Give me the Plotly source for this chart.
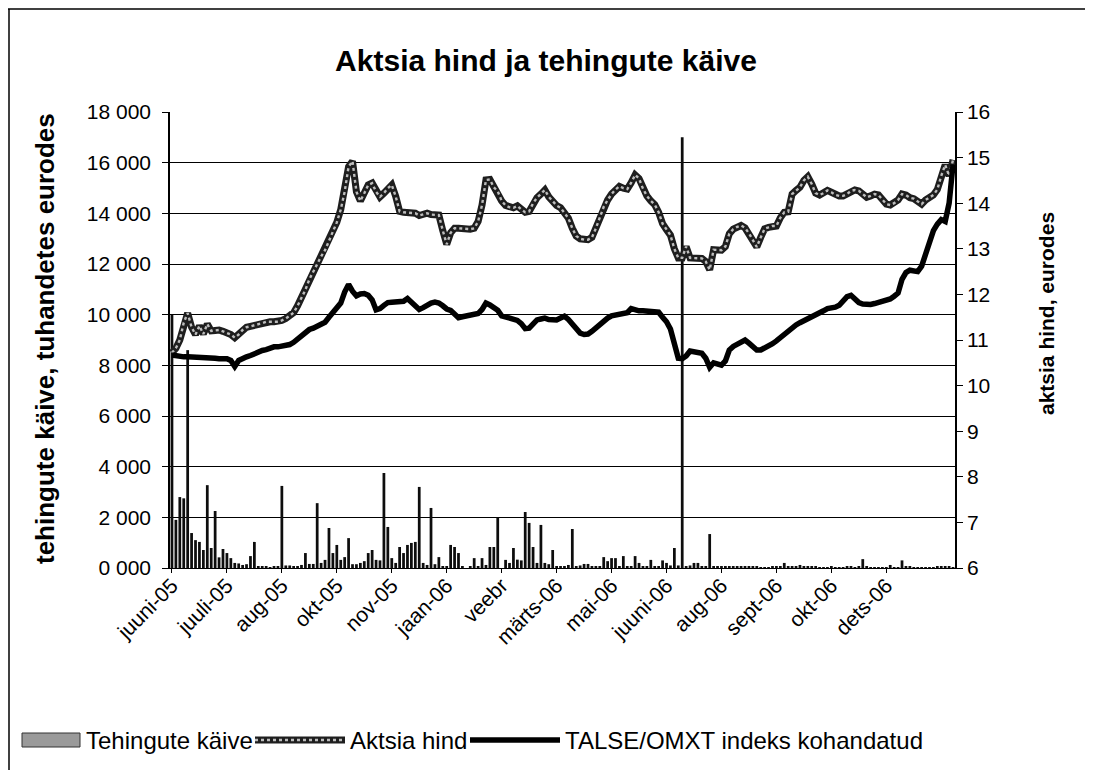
import plotly.graph_objects as go

# ---- data (each category = 2 trading days) ----
tick_labels = ["juuni-05", "juuli-05", "aug-05", "okt-05", "nov-05", "jaan-06", "veebr",
               "märts-06", "mai-06", "juuni-06", "aug-06", "sept-06", "okt-06", "dets-06"]
label_every = 14

turnover = [
    10000, 1900, 2800, 2750, 8600, 1380, 1100, 1030, 710, 3270,
    790, 2250, 420, 750, 590, 390, 200, 180, 120, 150,
    470, 1030, 80, 60, 40, 30, 50, 60, 3240, 100,
    100, 80, 60, 120, 590, 160, 160, 2560, 200, 320,
    1580, 590, 910, 320, 430, 1180, 150, 150, 200, 270,
    590, 710, 320, 300, 3750, 1620, 390, 200, 830, 590,
    910, 990, 1030, 3200, 200, 120, 2370, 150, 430, 80,
    60, 910, 830, 590, 80, 0, 40, 390, 80, 390,
    120, 830, 830, 2000, 0, 320, 200, 790, 330, 300,
    2210, 1780, 830, 200, 1700, 200, 150, 710, 80, 60,
    80, 120, 1540, 80, 100, 160, 160, 40, 40, 60,
    430, 270, 390, 390, 80, 470, 60, 80, 470, 200,
    40, 40, 320, 40, 40, 300, 200, 100, 790, 100,
    17000, 40, 100, 200, 200, 40, 40, 1340, 40, 40,
    40, 40, 80, 80, 80, 40, 40, 40, 40, 40,
    20, 20, 20, 60, 60, 60, 200, 80, 80, 40,
    120, 40, 80, 80, 40, 20, 20, 20, 40, 20,
    20, 20, 40, 40, 20, 40, 350, 40, 20, 20,
    20, 20, 20, 120, 20, 20, 300, 40, 80, 20,
    20, 20, 20, 20, 20, 80, 80, 80, 80, 20,
]

price = [
    10.72, 10.82, 11.0, 11.38, 11.59, 11.28, 11.12, 11.31, 11.13, 11.35,
    11.2, 11.21, 11.22, 11.19, 11.16, 11.12, 11.05, 11.12, 11.22, 11.28,
    11.3, 11.32, 11.35, 11.37, 11.4, 11.4, 11.4, 11.4, 11.43, 11.47,
    11.53, 11.6, 11.75, 11.93, 12.1, 12.33, 12.5, 12.68, 12.83, 12.97,
    13.18, 13.36, 13.58, 13.86, 14.25, 14.8, 14.92, 14.25, 14.05, 14.22,
    14.4, 14.44, 14.25, 14.14, 14.22, 14.33, 14.4, 14.15, 13.82, 13.8,
    13.79, 13.79, 13.78, 13.73, 13.76, 13.78, 13.75, 13.74, 13.74, 13.4,
    13.1, 13.35, 13.45, 13.45, 13.44, 13.43, 13.43, 13.45, 13.6, 13.96,
    14.51, 14.52, 14.35, 14.26, 14.05, 13.95, 13.91, 13.9, 13.94, 13.86,
    13.8, 13.82, 14.0, 14.12, 14.2, 14.29, 14.14, 14.04, 13.95, 13.9,
    13.79, 13.67, 13.45, 13.28, 13.22, 13.2, 13.2, 13.25, 13.45, 13.7,
    13.92, 14.07, 14.2, 14.3, 14.37, 14.33, 14.31, 14.45, 14.62, 14.54,
    14.32, 14.16, 14.05, 13.97, 13.8, 13.55, 13.42, 13.3, 13.0, 12.8,
    12.8, 13.05, 12.8, 12.8, 12.8, 12.79, 12.72, 12.54, 12.98, 12.97,
    12.97, 13.05, 13.33, 13.43, 13.48, 13.51, 13.46, 13.34, 13.18, 13.04,
    13.25, 13.44, 13.47, 13.5, 13.5, 13.68, 13.8, 13.81, 14.2, 14.28,
    14.35, 14.5, 14.58, 14.42, 14.22, 14.18, 14.22, 14.28, 14.24, 14.18,
    14.16, 14.16, 14.2, 14.27, 14.29, 14.27, 14.19, 14.13, 14.16, 14.2,
    14.18, 14.08, 13.98, 13.96, 14.0, 14.07, 14.2, 14.18, 14.12, 14.1,
    14.04, 13.98, 14.07, 14.13, 14.18, 14.3, 14.6, 14.84, 14.6, 14.95,
]

index_adj = [
    10.67, 10.65, 10.63, 10.63, 10.63, 10.63, 10.62, 10.61, 10.61, 10.61,
    10.61, 10.6, 10.59, 10.59, 10.59, 10.55, 10.42, 10.55, 10.6, 10.63,
    10.66, 10.7, 10.76, 10.77, 10.79, 10.83, 10.85, 10.85, 10.86, 10.88,
    10.9, 10.95, 11.03, 11.1, 11.17, 11.23, 11.26, 11.3, 11.33, 11.39,
    11.5, 11.59, 11.69, 11.81, 12.05, 12.22, 12.07, 11.97, 12.01, 12.02,
    11.98, 11.88, 11.66, 11.69, 11.76, 11.82, 11.83, 11.83, 11.83, 11.85,
    11.91, 11.83, 11.75, 11.67, 11.71, 11.77, 11.81, 11.83, 11.81, 11.75,
    11.68, 11.65, 11.56, 11.49, 11.51, 11.53, 11.53, 11.54, 11.58, 11.67,
    11.81, 11.77, 11.72, 11.65, 11.53, 11.5, 11.49, 11.47, 11.43, 11.36,
    11.25, 11.26, 11.36, 11.44, 11.46, 11.48, 11.45, 11.44, 11.44, 11.48,
    11.52, 11.45, 11.36, 11.24, 11.15, 11.12, 11.13, 11.19, 11.27, 11.36,
    11.44, 11.48, 11.53, 11.55, 11.56, 11.58, 11.6, 11.69, 11.66, 11.64,
    11.64, 11.63, 11.62, 11.64, 11.61, 11.5, 11.4, 11.24, 10.95, 10.6,
    10.59, 10.65, 10.76, 10.74, 10.73, 10.71, 10.6, 10.4, 10.5, 10.48,
    10.45, 10.54, 10.78, 10.86, 10.9, 10.93, 11.0, 10.93, 10.84, 10.78,
    10.78, 10.82, 10.88, 10.92, 10.98, 11.05, 11.12, 11.21, 11.27, 11.33,
    11.38, 11.42, 11.47, 11.51, 11.53, 11.58, 11.64, 11.69, 11.7, 11.72,
    11.76, 11.84, 11.95, 11.98, 11.9, 11.82, 11.79, 11.77, 11.78, 11.8,
    11.83, 11.83, 11.86, 11.9, 11.96, 12.03, 12.33, 12.48, 12.53, 12.53,
    12.5, 12.62, 12.9, 13.18, 13.4, 13.54, 13.64, 13.6, 14.0, 14.85,
]

left_ticks = [0, 2000, 4000, 6000, 8000, 10000, 12000, 14000, 16000, 18000]
left_tick_text = ["0 000", "2 000", "4 000", "6 000", "8 000", "10 000",
                  "12 000", "14 000", "16 000", "18 000"]

legend_names = ["Tehingute käive", "Aktsia hind", "TALSE/OMXT indeks kohandatud"]

n = len(price)
xs = list(range(n))
tick_positions = xs[::label_every][:len(tick_labels)]
FONT = "Liberation Sans, Arial, sans-serif"

fig = go.Figure()

fig.add_trace(go.Bar(
    x=xs, y=turnover, name=legend_names[0], yaxis="y",
    marker=dict(color="#0d0d0d", line=dict(width=0)),
))
fig.add_trace(go.Scatter(
    x=xs, y=price, yaxis="y2", mode="lines", hoverinfo="skip",
    line=dict(color="#1e1e1e", width=7),
))
fig.add_trace(go.Scatter(
    x=xs, y=price, yaxis="y2", mode="lines", name=legend_names[1],
    line=dict(color="#bdbdbd", width=2.4, dash="dot"),
))
fig.add_trace(go.Scatter(
    x=xs, y=index_adj, yaxis="y2", mode="lines", name=legend_names[2],
    line=dict(color="#000000", width=5.5),
))

# the page has an 8px body margin: work in page pixels, convert to figure pixels
OFF = 8
W, H = 1093 - OFF, 770 - OFF
L, R, T, B = 170 - OFF, 955 - OFF, 112 - OFF, 568 - OFF


def px_x(p):
    return (p - OFF - L) / (R - L)


def px_y(p):
    return (B - (p - OFF)) / (B - T)


leg_y = 740
shapes = [
    dict(type="line", xref="paper", yref="paper", x0=px_x(8), x1=px_x(1093), y0=px_y(9), y1=px_y(9),
         line=dict(color="#000", width=1.5)),
    dict(type="line", xref="paper", yref="paper", x0=px_x(9), x1=px_x(9), y0=px_y(9), y1=px_y(770),
         line=dict(color="#000", width=1.5)),
    dict(type="line", xref="paper", yref="paper", x0=px_x(1087), x1=px_x(1087), y0=px_y(9), y1=px_y(770),
         line=dict(color="#000", width=1.5)),
    dict(type="rect", xref="paper", yref="paper", x0=px_x(22), x1=px_x(80),
         y0=px_y(leg_y + 7), y1=px_y(leg_y - 7), fillcolor="#9a9a9a",
         line=dict(color="#333", width=1)),
    dict(type="line", xref="paper", yref="paper", x0=px_x(255), x1=px_x(345),
         y0=px_y(leg_y), y1=px_y(leg_y), line=dict(color="#1e1e1e", width=7)),
    dict(type="line", xref="paper", yref="paper", x0=px_x(255), x1=px_x(345),
         y0=px_y(leg_y), y1=px_y(leg_y), line=dict(color="#bdbdbd", width=2.4, dash="dot")),
    dict(type="line", xref="paper", yref="paper", x0=px_x(470), x1=px_x(560),
         y0=px_y(leg_y), y1=px_y(leg_y), line=dict(color="#000", width=5.5)),
]

annotations = [
    dict(text="<b>tehingute käive, tuhandetes eurodes</b>", textangle=-90,
         xref="paper", yref="paper", x=px_x(45), y=px_y(339),
         xanchor="center", yanchor="middle", showarrow=False,
         font=dict(size=26, family=FONT)),
    dict(text="<b>aktsia hind, eurodes</b>", textangle=-90,
         xref="paper", yref="paper", x=px_x(1046), y=px_y(314),
         xanchor="center", yanchor="middle", showarrow=False,
         font=dict(size=21, family=FONT)),
]
for name, x0 in zip(legend_names, [84, 348, 563]):
    annotations.append(dict(text=name, xref="paper", yref="paper", x=px_x(x0), y=px_y(leg_y),
                            xanchor="left", yanchor="middle", showarrow=False,
                            font=dict(size=24, family=FONT)))

fig.update_layout(
    width=W, height=H,
    margin=dict(l=L, r=W - R, t=T, b=H - B, autoexpand=False),
    paper_bgcolor="white", plot_bgcolor="white",
    font=dict(family=FONT, size=21, color="#000"),
    title=dict(text="<b>Aktsia hind ja tehingute käive</b>", x=(546 - OFF) / W, xanchor="center",
               y=1 - (60 - OFF) / H, yanchor="middle", font=dict(size=30, family=FONT)),
    bargap=0.3,
    showlegend=False,
    xaxis=dict(range=[-0.5, n - 0.5], tickmode="array",
               tickvals=tick_positions, ticktext=tick_labels, automargin=False,
               tickangle=-45, showgrid=False, zeroline=False,
               showline=True, linecolor="#000", linewidth=1,
               ticks="outside", ticklen=4, tickcolor="#000", ticklabelstandoff=-8,
               tickfont=dict(size=21, family=FONT)),
    yaxis=dict(range=[0, 18000], tickmode="array", tickvals=left_ticks, ticktext=left_tick_text,
               automargin=False,
               showgrid=True, gridcolor="#000", gridwidth=1, zeroline=False,
               showline=True, linecolor="#000", linewidth=1.5, mirror=False,
               ticks="outside", ticklen=6, tickcolor="#000", ticklabelstandoff=7,
               tickfont=dict(size=21, family=FONT)),
    yaxis2=dict(range=[6, 16], dtick=1, overlaying="y", side="right", automargin=False,
                showgrid=False, zeroline=False, showline=True, linecolor="#000", linewidth=1.5,
                ticks="outside", ticklen=6, tickcolor="#000",
                tickfont=dict(size=21, family=FONT)),
    annotations=annotations,
    shapes=shapes,
)

fig.write_html("out.html")
